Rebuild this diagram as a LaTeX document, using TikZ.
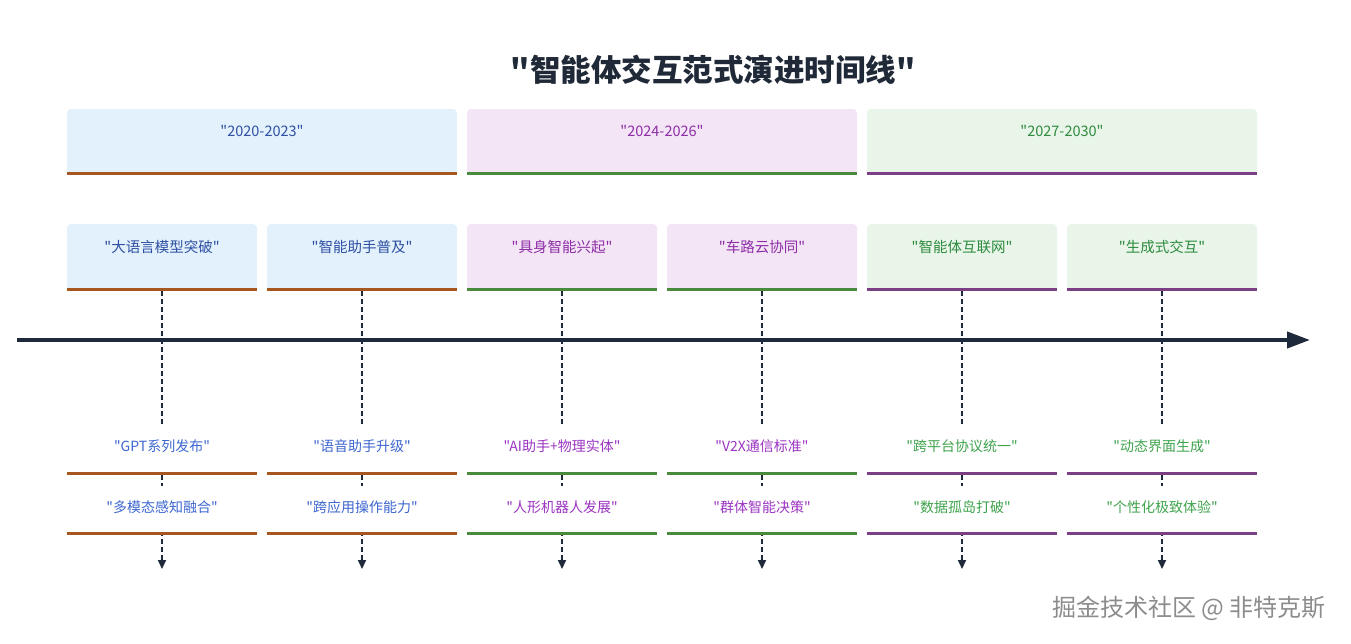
\documentclass[tikz,border=0pt]{standalone}
\usepackage{fontspec}
\setmainfont{Noto Sans CJK SC}[Ligatures=TeXOff]
\usetikzlibrary{arrows.meta}
\definecolor{bgA}{HTML}{E3F1FC}
\definecolor{bgB}{HTML}{F3E4F6}
\definecolor{bgC}{HTML}{E8F5E8}
\definecolor{lnA}{HTML}{A8561F}
\definecolor{lnB}{HTML}{4A8A3C}
\definecolor{lnC}{HTML}{7B3F86}
\definecolor{txA}{HTML}{2E4FA3}
\definecolor{txB}{HTML}{8E2EA6}
\definecolor{txC}{HTML}{2E8B3F}
\definecolor{evA}{HTML}{3D66CF}
\definecolor{evB}{HTML}{9C34C2}
\definecolor{evC}{HTML}{3FA34D}
\definecolor{axis}{HTML}{1E293B}
\definecolor{titlec}{HTML}{1F2937}
\definecolor{wm}{HTML}{8C8C8C}
\begin{document}
\begin{tikzpicture}[x=1pt,y=-1pt,
  secbox/.style={rounded corners=4pt, minimum width=390pt, minimum height=66pt, inner sep=0pt},
  taskbox/.style={rounded corners=4pt, minimum width=190pt, minimum height=67pt, inner sep=0pt},
  evbox/.style={fill=white, minimum width=190pt, minimum height=49pt, inner sep=0pt},
  sectext/.style={font=\fontsize{14.5}{16}\selectfont, inner sep=0pt},
  tasktext/.style={font=\fontsize{14.5}{17}\selectfont, inner sep=0pt},
  evtext/.style={font=\fontsize{14}{16}\selectfont, inner sep=0pt},
  baseline/.style={line width=3pt},
  dashline/.style={line width=1.8pt, axis, dash pattern=on 5pt off 3pt, -{Triangle[length=9pt,width=8pt]}},
]
\useasboundingbox[fill=white] (0,0) rectangle (1351,643);

% title
\node[font=\fontsize{30.5}{35}\selectfont\bfseries, text=titlec] (title) at (713,70) {"智能体交互范式演进时间线"};

% section boxes
\node[secbox, fill=bgA] (s1) at (262,142) {};
\node[secbox, fill=bgB] (s2) at (662,142) {};
\node[secbox, fill=bgC] (s3) at (1062,142) {};
\draw[baseline, lnA] ([yshift=1.5pt]s1.south west) -- ([yshift=1.5pt]s1.south east);
\draw[baseline, lnB] ([yshift=1.5pt]s2.south west) -- ([yshift=1.5pt]s2.south east);
\draw[baseline, lnC] ([yshift=1.5pt]s3.south west) -- ([yshift=1.5pt]s3.south east);
\node[sectext, text=txA] (s1t) at (262,131) {"2020-2023"};
\node[sectext, text=txB] (s2t) at (662,131) {"2024-2026"};
\node[sectext, text=txC] (s3t) at (1062,131) {"2027-2030"};

% task boxes
\node[taskbox, fill=bgA] (t1) at (162,257.5) {};
\node[taskbox, fill=bgA] (t2) at (362,257.5) {};
\node[taskbox, fill=bgB] (t3) at (562,257.5) {};
\node[taskbox, fill=bgB] (t4) at (762,257.5) {};
\node[taskbox, fill=bgC] (t5) at (962,257.5) {};
\node[taskbox, fill=bgC] (t6) at (1162,257.5) {};
\foreach \n/\c in {t1/lnA,t2/lnA,t3/lnB,t4/lnB,t5/lnC,t6/lnC}{
  \draw[baseline, \c] ([yshift=1.5pt]\n.south west) -- ([yshift=1.5pt]\n.south east);
}
\node[tasktext, text=txA] (t1t) at (162,247) {"大语言模型突破"};
\node[tasktext, text=txA] (t2t) at (362,247) {"智能助手普及"};
\node[tasktext, text=txB] (t3t) at (562,247) {"具身智能兴起"};
\node[tasktext, text=txB] (t4t) at (762,247) {"车路云协同"};
\node[tasktext, text=txC] (t5t) at (962,247) {"智能体互联网"};
\node[tasktext, text=txC] (t6t) at (1162,247) {"生成式交互"};

% dashed connectors
\foreach \i/\x in {1/162,2/362,3/562,4/762,5/962,6/1162}{
  \coordinate (d\i) at (\x,569);
  \draw[dashline] (t\i.south) -- (d\i);
}

% axis
\coordinate (axL) at (17,340);
\coordinate (axR) at (1310,340);
\draw[line width=4pt, axis, -{Triangle[length=23pt,width=16pt]}] (axL) -- (axR);

% event boxes (white, covering the dashed connectors)
\foreach \i/\x in {1/162,2/362,3/562,4/762,5/962,6/1162}{
  \node[evbox] (ea\i) at (\x,450.5) {};
  \node[evbox] (eb\i) at (\x,510.5) {};
}
\foreach \i/\c in {1/lnA,2/lnA,3/lnB,4/lnB,5/lnC,6/lnC}{
  \draw[baseline, \c] ([yshift=1.5pt]ea\i.south west) -- ([yshift=1.5pt]ea\i.south east);
  \draw[baseline, \c] ([yshift=1.5pt]eb\i.south west) -- ([yshift=1.5pt]eb\i.south east);
}
\node[evtext, text=evA] (ea1t) at (162,446) {"GPT系列发布"};
\node[evtext, text=evA] (eb1t) at (162,507) {"多模态感知融合"};
\node[evtext, text=evA] (ea2t) at (362,446) {"语音助手升级"};
\node[evtext, text=evA] (eb2t) at (362,507) {"跨应用操作能力"};
\node[evtext, text=evB] (ea3t) at (562,446) {"AI助手+物理实体"};
\node[evtext, text=evB] (eb3t) at (562,507) {"人形机器人发展"};
\node[evtext, text=evB] (ea4t) at (762,446) {"V2X通信标准"};
\node[evtext, text=evB] (eb4t) at (762,507) {"群体智能决策"};
\node[evtext, text=evC] (ea5t) at (962,446) {"跨平台协议统一"};
\node[evtext, text=evC] (eb5t) at (962,507) {"数据孤岛打破"};
\node[evtext, text=evC] (ea6t) at (1162,446) {"动态界面生成"};
\node[evtext, text=evC] (eb6t) at (1162,507) {"个性化极致体验"};

% watermark
\node[font=\fontsize{24}{28}\selectfont, text=wm] (wmk) at (1189,608) {掘金技术社区 @ 非特克斯};
\end{tikzpicture}
\end{document}
